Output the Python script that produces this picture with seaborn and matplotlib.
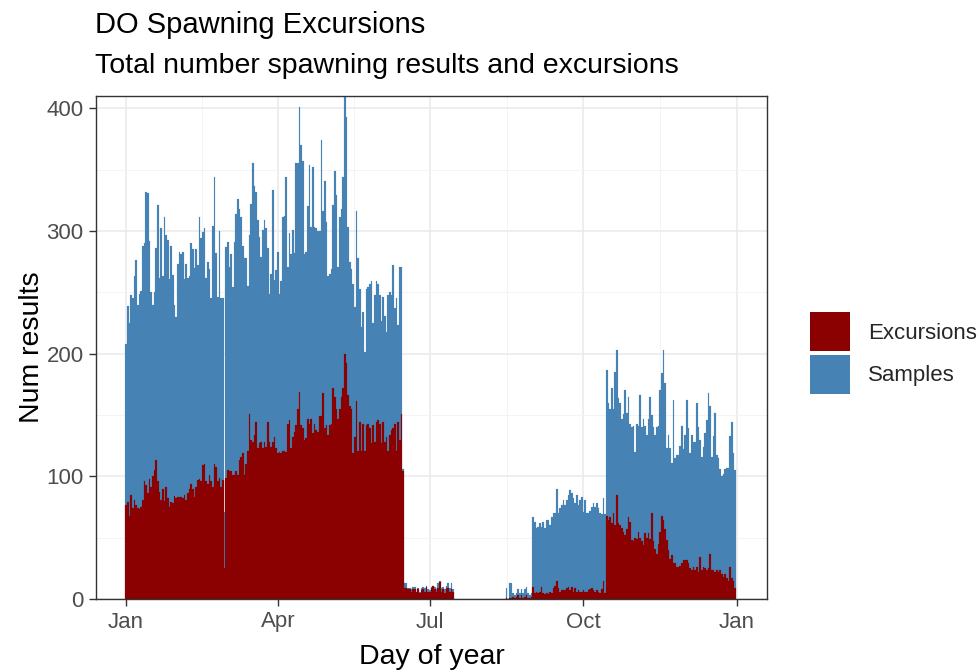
import numpy as np
import pandas as pd
import matplotlib
matplotlib.use("Agg")
import matplotlib.pyplot as plt
import seaborn as sns
from matplotlib.patches import Patch

# ---- data: daily counts, each segment starts at the given day of year ----
seg_start_days = [1, 62, 118, 168, 229, 245, 289]

samples_jan_feb = [208,239,225,248,245,263,276,240,249,251,288,290,332,331,292,250,240,250,286,321,
                   262,302,263,311,297,293,261,288,264,240,230,273,283,281,283,261,273,262,263,290,
                   285,270,285,272,311,294,299,302,262,275,269,245,304,344,282,246,300,245,245,71,287]
excursions_jan_feb = [77,79,68,85,74,81,77,74,73,75,81,96,93,86,98,91,100,105,113,96,
                      87,81,90,80,91,82,75,79,78,84,82,83,83,83,82,85,81,86,90,94,
                      90,83,91,97,98,96,109,110,96,94,101,96,91,110,108,96,99,91,97,25,99]

samples_mar_apr = [291,271,281,254,291,314,326,318,311,288,278,278,255,297,322,355,337,332,309,295,
                   279,301,309,302,286,249,265,333,260,268,283,249,259,311,312,344,271,298,281,301,
                   282,355,355,401,370,357,281,283,320,354,303,352,303,302,300,300]
excursions_mar_apr = [105,104,104,101,101,104,101,113,116,119,101,110,121,151,130,128,134,144,123,127,
                      128,123,128,124,144,128,124,128,132,123,119,120,119,121,121,120,143,146,123,132,
                      136,142,155,169,142,139,130,131,147,143,147,135,143,138,136,149]

samples_may_jun = [374,316,341,307,263,265,269,321,349,329,271,311,318,344,410,393,303,275,269,257,
                   238,316,278,253,222,234,201,253,254,257,259,225,248,259,257,248,227,246,231,218,
                   248,250,248,272,237,245,223,271,271,106]
excursions_may_jun = [149,168,139,142,134,142,143,172,165,155,147,155,165,172,200,192,166,157,155,119,
                      132,161,121,144,121,143,121,142,143,139,127,142,128,144,146,143,127,144,128,132,
                      121,134,138,139,143,121,144,130,151,104]

samples_jul = [13,13,9,9,8,10,10,6,9,6,9,10,9,11,8,7,10,11,10,8,13,15,9,10,8,11,13,9,13,8]
excursions_jul = [9,9,8,8,6,8,8,6,8,5,7,8,6,10,6,6,9,11,8,6,9,14,6,8,5,9,9,6,8,6]

samples_aug = [9,0,13,13,5,3,5,8,5,8,5,8,10,5,3,5]
excursions_aug = [1,0,1,1,2,1,2,3,1,3,1,2,3,1,1,2]

samples_sep_oct = [67,63,58,59,62,59,63,58,64,64,60,67,70,70,90,70,74,77,81,77,
                   81,85,89,86,82,78,85,77,81,83,71,81,70,70,72,75,78,75,78,74,70,69,82,69]
excursions_sep_oct = [10,5,6,5,6,10,5,4,5,4,6,5,9,11,15,9,6,7,7,7,
                      9,10,7,10,6,9,6,7,6,6,7,6,6,7,8,9,7,6,7,6,5,8,15,5]

samples_oct_dec = [187,160,155,172,155,185,203,164,160,147,151,170,152,165,143,140,141,120,143,141,
                   166,140,147,141,134,147,165,150,140,134,140,141,170,184,203,176,123,134,123,111,
                   162,115,117,117,125,141,122,134,162,139,119,134,128,128,160,140,130,116,124,135,
                   146,168,157,116,133,152,117,115,106,100,102,106,107,107,133,144,119,105]
excursions_oct_dec = [68,64,67,62,70,60,85,62,60,58,55,52,57,67,63,48,47,50,49,55,
                      50,47,44,54,50,54,49,70,47,41,37,45,55,68,64,57,48,40,33,36,
                      29,29,26,26,27,29,32,32,32,29,25,24,26,24,26,22,34,24,26,25,
                      24,25,37,24,24,22,24,22,24,20,18,20,17,15,26,17,15,9]

month_tick_days = [1, 92, 183, 275, 367]
month_tick_labels = ["Jan", "Apr", "Jul", "Oct", "Jan"]
series_labels = ["Excursions", "Samples"]
series_colors = ["#8B0000", "#4682B4"]

# ---- build table ----
samples_segs = [samples_jan_feb, samples_mar_apr, samples_may_jun, samples_jul,
                samples_aug, samples_sep_oct, samples_oct_dec]
exc_segs = [excursions_jan_feb, excursions_mar_apr, excursions_may_jun, excursions_jul,
            excursions_aug, excursions_sep_oct, excursions_oct_dec]
rows = []
for start, s_seg, e_seg in zip(seg_start_days, samples_segs, exc_segs):
    for i, (s, e) in enumerate(zip(s_seg, e_seg)):
        rows.append((start + i, s, e))
df = pd.DataFrame(rows, columns=["day", "samples", "excursions"])

# ---- plot ----
sns.set_theme(style="white")
plt.rcParams["font.family"] = ["Liberation Sans", "DejaVu Sans"]

fig = plt.figure(figsize=(9.77, 6.7), dpi=100)
fig.patch.set_facecolor("white")
ax = fig.add_axes([96/977, 1 - 599/670, (767 - 96)/977, (599 - 96)/670])

sns.barplot(data=df, x="day", y="samples", native_scale=True, width=1.0,
            color=series_colors[1], saturation=1, errorbar=None,
            edgecolor=series_colors[1], linewidth=0.12, ax=ax)
sns.barplot(data=df, x="day", y="excursions", native_scale=True, width=1.0,
            color=series_colors[0], saturation=1, errorbar=None,
            edgecolor=series_colors[0], linewidth=0.12, ax=ax)

ax.set_xlim(-17, 385)
ax.set_ylim(0, 410)
ax.set_xticks(month_tick_days)
ax.set_xticklabels(month_tick_labels)
ax.set_xticks([46.5, 137.5, 229, 321], minor=True)
ax.set_yticks([0, 100, 200, 300, 400])
ax.set_yticks([50, 150, 250, 350], minor=True)

ax.set_axisbelow(True)
ax.grid(which="major", color="#EBEBEB", linewidth=1.2)
ax.grid(which="minor", color="#F2F2F2", linewidth=0.6)
for sp in ax.spines.values():
    sp.set_color("#333333")
    sp.set_linewidth(1.0)
ax.tick_params(which="major", length=5, width=1.0, color="#333333",
               labelcolor="#4D4D4D", labelsize=16, pad=4, bottom=True, left=True)
ax.tick_params(which="minor", length=0)

ax.set_xlabel("Day of year", fontsize=20.5, color="black", labelpad=8)
ax.set_ylabel("Num results", fontsize=20.5, color="black", labelpad=1)

fig.text(95/977, 1 - 33/670, "DO Spawning Excursions", fontsize=21, color="black",
         ha="left", va="baseline")
fig.text(95/977, 1 - 73/670, "Total number spawning results and excursions", fontsize=20.5,
         color="black", ha="left", va="baseline")

handles = [Patch(facecolor=c, edgecolor="none") for c in series_colors]
fig.legend(handles, series_labels, loc="center left", bbox_to_anchor=(810/977, 1 - 353/670),
           frameon=False, fontsize=16, handlelength=1.8, handleheight=2.3,
           labelspacing=0.18, handletextpad=0.8, borderpad=0, borderaxespad=0)

fig.savefig("out.png", dpi=100, facecolor="white")
